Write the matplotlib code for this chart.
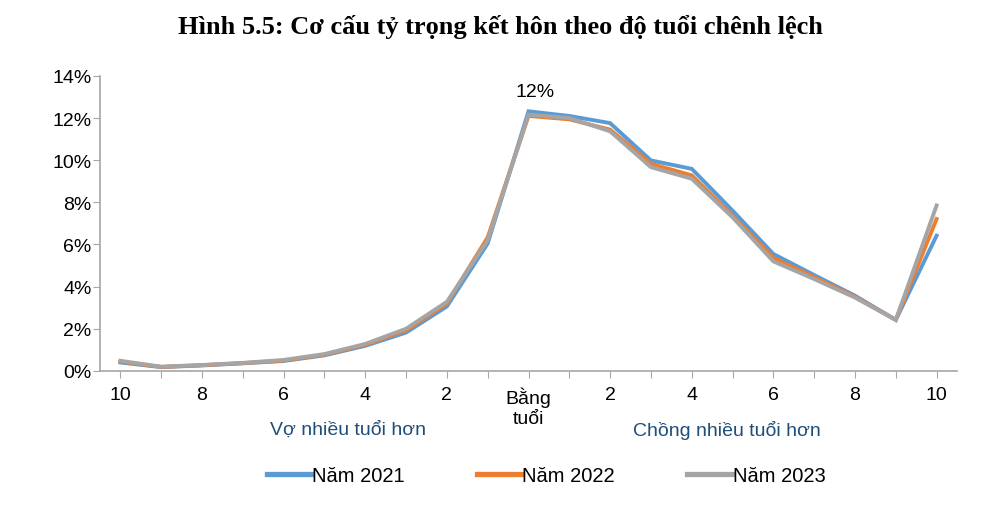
import matplotlib.pyplot as plt
from matplotlib.ticker import FuncFormatter

# age gap positions: wife older 10..1, equal, husband older 1..10
tick_labels = ["10", "", "8", "", "6", "", "4", "", "2", "", "Bằng\ntuổi",
               "", "2", "", "4", "", "6", "", "8", "", "10"]
years = ["Năm 2021", "Năm 2022", "Năm 2023"]

nam_2021 = [0.40, 0.18, 0.26, 0.36, 0.47, 0.74, 1.19, 1.82, 3.06, 6.05, 12.32,
            12.10, 11.76, 9.99, 9.59, 7.61, 5.55, 4.55, 3.57, 2.42, 6.42]
nam_2022 = [0.44, 0.19, 0.27, 0.37, 0.49, 0.77, 1.24, 1.92, 3.20, 6.34, 12.10,
            11.94, 11.45, 9.83, 9.28, 7.37, 5.36, 4.45, 3.52, 2.42, 7.21]
nam_2023 = [0.48, 0.20, 0.28, 0.38, 0.52, 0.80, 1.28, 2.00, 3.28, 6.20, 12.16,
            12.00, 11.37, 9.67, 9.12, 7.29, 5.20, 4.36, 3.48, 2.42, 7.85]

colors = ["#5B9BD5", "#ED7D31", "#A5A5A5"]

plt.rcParams['font.family'] = ['Liberation Sans', 'DejaVu Sans']

fig = plt.figure(figsize=(10, 5.06), dpi=100)
ax = fig.add_axes([0.1, 0.265, 0.857, 0.583])

x = list(range(len(tick_labels)))
for vals, c, name in zip([nam_2021, nam_2022, nam_2023], colors, years):
    ax.plot(x, vals, color=c, lw=2.8, label=name, solid_joinstyle='miter')

ax.set_xlim(-0.5, 20.5)
ax.set_ylim(0, 14)
ax.set_yticks(range(0, 15, 2))
ax.yaxis.set_major_formatter(FuncFormatter(lambda v, p: f"{v:.0f}%"))
ax.set_xticks(x)
ax.set_xticklabels(tick_labels, linespacing=1.25)

for s in ["top", "right"]:
    ax.spines[s].set_visible(False)
for s in ["left", "bottom"]:
    ax.spines[s].set_color("#A6A6A6")
    ax.spines[s].set_linewidth(1.2)
ax.tick_params(axis="y", length=5, color="#A6A6A6", labelsize=14, pad=1)
ax.tick_params(axis="x", length=5, color="#A6A6A6", labelsize=14, pad=6)

ax.annotate("12%", (10, nam_2021[10]), xytext=(5, 8), textcoords="offset points",
            ha="center", va="bottom", fontsize=14)

fig.text(0.348, 0.15, "Vợ nhiều tuổi hơn", ha="center", va="center",
         fontsize=14, color="#1F4E79")
fig.text(0.727, 0.15, "Chồng nhiều tuổi hơn", ha="center", va="center",
         fontsize=14, color="#1F4E79")

fig.suptitle("Hình 5.5: Cơ cấu tỷ trọng kết hôn theo độ tuổi chênh lệch",
             y=0.97, fontsize=19, fontweight="bold",
             family=["Liberation Serif", "DejaVu Serif"])

leg = fig.legend(loc="center", bbox_to_anchor=(0.546, 0.058), ncol=3, frameon=False,
                 fontsize=14.5, handlelength=2.2, handletextpad=0.05,
                 columnspacing=3.6)
for line in leg.get_lines():
    line.set_linewidth(3.8)

fig.savefig("out.png", dpi=100)
plt.close()
